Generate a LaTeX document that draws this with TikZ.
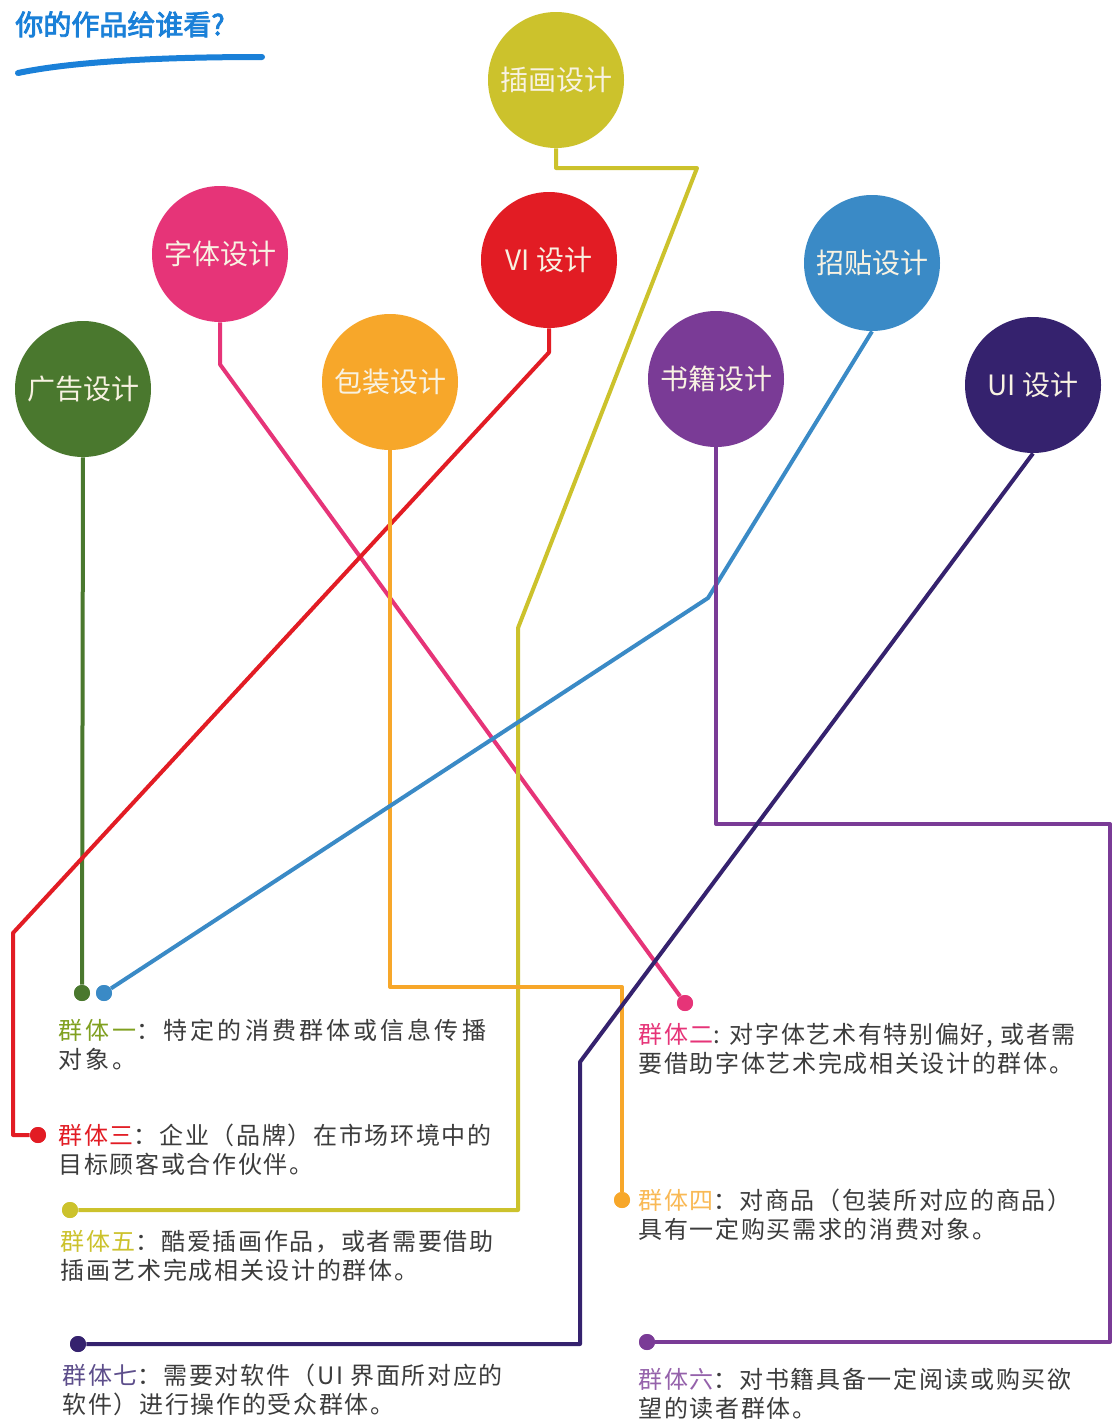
\documentclass[tikz,border=0pt]{standalone}
\usepackage{fontspec}
\setmainfont{Noto Sans CJK SC}
\newfontfamily\titlefont[FakeBold=3]{Noto Sans CJK SC}
\newfontfamily\labelfont[LetterSpace=7]{Noto Sans CJK SC}
\newfontfamily\widelabelfont[LetterSpace=13]{Noto Sans CJK SC}

\definecolor{cyellow}{RGB}{204,194,44}
\definecolor{cpink}{RGB}{230,52,120}
\definecolor{cred}{RGB}{226,28,36}
\definecolor{cblue}{RGB}{58,138,198}
\definecolor{cgreen}{RGB}{74,120,46}
\definecolor{corange}{RGB}{247,167,42}
\definecolor{cpurple}{RGB}{122,59,150}
\definecolor{cnavy}{RGB}{53,34,110}
\definecolor{titleblue}{RGB}{26,128,216}
\definecolor{cream}{RGB}{248,242,226}
\definecolor{bodygray}{RGB}{60,60,60}

\tikzstyle{topic}=[circle,minimum size=68pt,inner sep=0pt,text=cream,font=\fontsize{14}{16}\selectfont]
\tikzstyle{group dot}=[circle,minimum size=8pt,inner sep=0pt]
\tikzstyle{wire}=[draw,line width=2pt,line join=round]
\tikzstyle{group text}=[anchor=base west,align=left,inner sep=0pt,text=bodygray,font=\labelfont\fontsize{12}{14.5}\selectfont]

\begin{document}
\begin{tikzpicture}[x=0.5pt,y=-0.5pt]
     \path[fill=white,use as bounding box] (0,0) rectangle (1114,1419);

     % Title and brush stroke
     \node[anchor=base west,inner sep=0pt,text=titleblue,font=\titlefont\fontsize{14}{16}\selectfont] (title) at (15,35) {你的作品给谁看?};
     \draw[titleblue,line width=3pt,line cap=round] (18,73) .. controls (80,60) and (180,57) .. (262,57);

     % First we draw the wires
     \coordinate (yel1) at (697,168);
     \coordinate (yel2) at (518,628);
     \coordinate (red1) at (13,933);
     \coordinate (org1) at (622,987);
     \coordinate (blu1) at (708,598);
     \coordinate (pur1) at (1110,824);
     \coordinate (nav1) at (580,1062);

     % The group dots
     \foreach \pos/\name/\col in {{(82,993)/g1/cgreen}, {(104,993)/g1b/cblue},
       {(685,1003)/g2/cpink}, {(38,1135)/g3/cred}, {(622,1200)/g4/corange},
       {(70,1210)/g5/cyellow}, {(647,1342)/g6/cpurple}, {(78,1344)/g7/cnavy}}
     \node[group dot,fill=\col] (\name) at \pos {};

     % The topic circles
     \foreach \pos/\name/\col/\txt in {{(556,80)/chahua/cyellow/插画设计},
       {(220,254)/ziti/cpink/字体设计}, {(549,260)/vi/cred/VI 设计},
       {(872,263)/zhaotie/cblue/招贴设计}, {(83,389)/guanggao/cgreen/广告设计},
       {(390,382)/baozhuang/corange/包装设计}, {(716,379)/shuji/cpurple/书籍设计},
       {(1033,385)/ui/cnavy/UI 设计}}
     \node[topic,fill=\col] (\name) at \pos {\txt};

     % Connect circles with the groups
     \path[wire,cgreen] (guanggao.south) -- (g1);
     \path[wire,cpink] (ziti.south) -- ++(0,42) -- (g2);
     \path[wire,cred] (vi.south) -- ++(0,24) -- (red1) |- (g3);
     \path[wire,cyellow] (chahua.south) |- (yel1) -- (yel2) |- (g5);
     \path[wire,corange] (baozhuang.south) |- (org1) -- (g4);
     \path[wire,cblue] (zhaotie.south) -- (blu1) -- (g1b);
     \path[wire,cpurple] (shuji.south) |- (pur1) |- (g6);
     \path[wire,cnavy] (ui.south) -- (nav1) |- (g7);

     % Redraw the dots on top
     \foreach \name/\col in {g1/cgreen, g1b/cblue, g2/cpink, g3/cred,
       g4/corange, g5/cyellow, g6/cpurple, g7/cnavy}
     \fill[\col] (\name) circle (4pt);

     % Group texts (anchored at the baseline of the last line)
     \node[group text,font=\widelabelfont\fontsize{12}{14.5}\selectfont] (t1) at (58,1068) {{\color{cgreen!70!yellow}群体一}：特定的消费群体或信息传播\\对象。};
     \node[group text] (t2) at (638,1072) {{\color{cpink}群体二}: 对字体艺术有特别偏好, 或者需\\要借助字体艺术完成相关设计的群体。};
     \node[group text] (t3) at (58,1173) {{\color{cred}群体三}：企业（品牌）在市场环境中的\\目标顾客或合作伙伴。};
     \node[group text] (t4) at (638,1238) {{\color{corange!80!white}群体四}：对商品（包装所对应的商品）\\具有一定购买需求的消费对象。};
     \node[group text] (t5) at (60,1279) {{\color{cyellow}群体五}：酷爱插画作品，或者需要借助\\插画艺术完成相关设计的群体。};
     \node[group text] (t6) at (638,1417) {{\color{cpurple!80!white}群体六}：对书籍具备一定阅读或购买欲\\望的读者群体。};
     \node[group text] (t7) at (62,1413) {{\color{cnavy!80!white}群体七}：需要对软件（UI 界面所对应的\\软件）进行操作的受众群体。};
\end{tikzpicture}
\end{document}
